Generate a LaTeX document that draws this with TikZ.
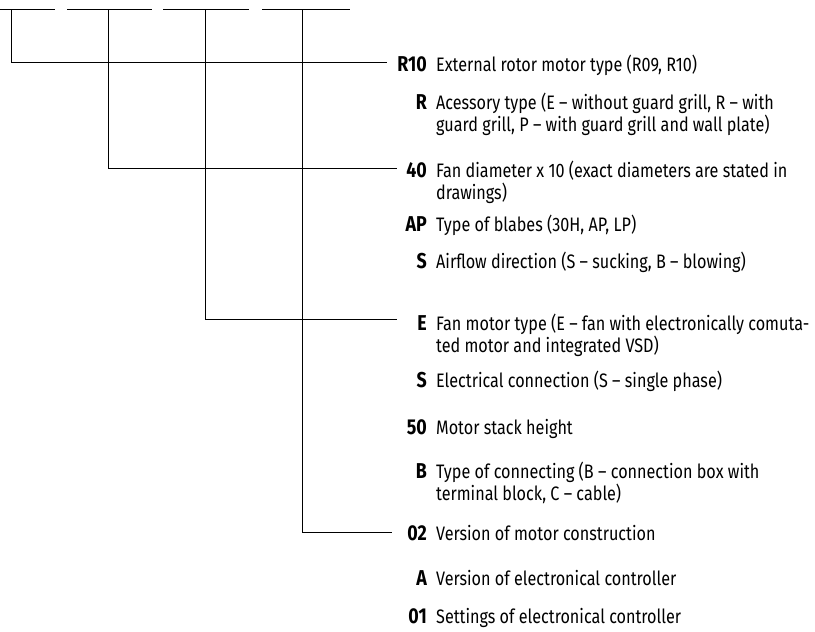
\documentclass[tikz,border=0pt]{standalone}
\usepackage{fontspec}
\setmainfont{Fira Sans}[FakeStretch=0.83]
\newcommand{\twoline}[2]{\begin{tabular}[t]{@{}l@{}}#1\\#2\end{tabular}}
\begin{document}
\begin{tikzpicture}[x=1pt,y=-1pt,
  conn/.style={draw=black, line width=0.8pt},
  codetxt/.style={font=\fontsize{21.5}{19}\selectfont\bfseries, inner sep=0pt, anchor=base east},
  desctxt/.style={font=\fontsize{19.5}{19}\selectfont, inner sep=0pt, anchor=base west}]
\useasboundingbox (0,0) rectangle (815,632);

% slot dashes
\coordinate (s1a) at (0,9);     \coordinate (s1b) at (55,9);
\coordinate (s2a) at (67,9);    \coordinate (s2b) at (152,9);
\coordinate (s3a) at (163,9);   \coordinate (s3b) at (249,9);
\coordinate (s4a) at (262,9);   \coordinate (s4b) at (350,9);
\draw[conn] (s1a) -- (s1b);
\draw[conn] (s2a) -- (s2b);
\draw[conn] (s3a) -- (s3b);
\draw[conn] (s4a) -- (s4b);

% vertical starts
\coordinate (t1) at (11,9);
\coordinate (t2) at (108.5,9);
\coordinate (t3) at (205.5,9);
\coordinate (t4) at (302,9);
% line ends
\coordinate (e1) at (387,62);
\coordinate (e2) at (397,168.5);
\coordinate (e3) at (397,319.5);
\coordinate (e4) at (392,532);

\draw[conn] (t1) |- (e1);
\draw[conn] (t2) |- (e2);
\draw[conn] (t3) |- (e3);
\draw[conn] (t4) |- (e4);

% rows
\node[codetxt] (c1) at (427,71.5) {R10};
\node[desctxt] (d1) at (436,71.5) {External rotor motor type (R09, R10)};

\node[codetxt] (c2) at (427,109.5) {R};
\node[desctxt] (d2) at (436,109.5) {\twoline{Acessory type (E – without guard grill, R – with}{guard grill, P – with guard grill and wall plate)}};

\node[codetxt] (c3) at (427,177.5) {40};
\node[desctxt] (d3) at (436,177.5) {\twoline{Fan diameter x 10 (exact diameters are stated in}{drawings)}};

\node[codetxt] (c4) at (427,231.5) {AP};
\node[desctxt] (d4) at (436,231.5) {Type of blabes (30H, AP, LP)};

\node[codetxt] (c5) at (427,268.5) {S};
\node[desctxt] (d5) at (436,268.5) {Airflow direction (S – sucking, B – blowing)};

\node[codetxt] (c6) at (427,330.5) {E};
\node[desctxt] (d6) at (436,330.5) {\twoline{Fan motor type (E – fan with electronically comuta-}{ted motor and integrated VSD)}};

\node[codetxt] (c7) at (427,387.5) {S};
\node[desctxt] (d7) at (436,387.5) {Electrical connection (S – single phase)};

\node[codetxt] (c8) at (427,434.5) {50};
\node[desctxt] (d8) at (436,434.5) {Motor stack height};

\node[codetxt] (c9) at (427,478.5) {B};
\node[desctxt] (d9) at (436,478.5) {\twoline{Type of connecting (B – connection box with}{terminal block, C – cable)}};

\node[codetxt] (c10) at (427,540.5) {02};
\node[desctxt] (d10) at (436,540.5) {Version of motor construction};

\node[codetxt] (c11) at (427,585.5) {A};
\node[desctxt] (d11) at (436,585.5) {Version of electronical controller};

\node[codetxt] (c12) at (427,623.5) {01};
\node[desctxt] (d12) at (436,623.5) {Settings of electronical controller};
\end{tikzpicture}
\end{document}
